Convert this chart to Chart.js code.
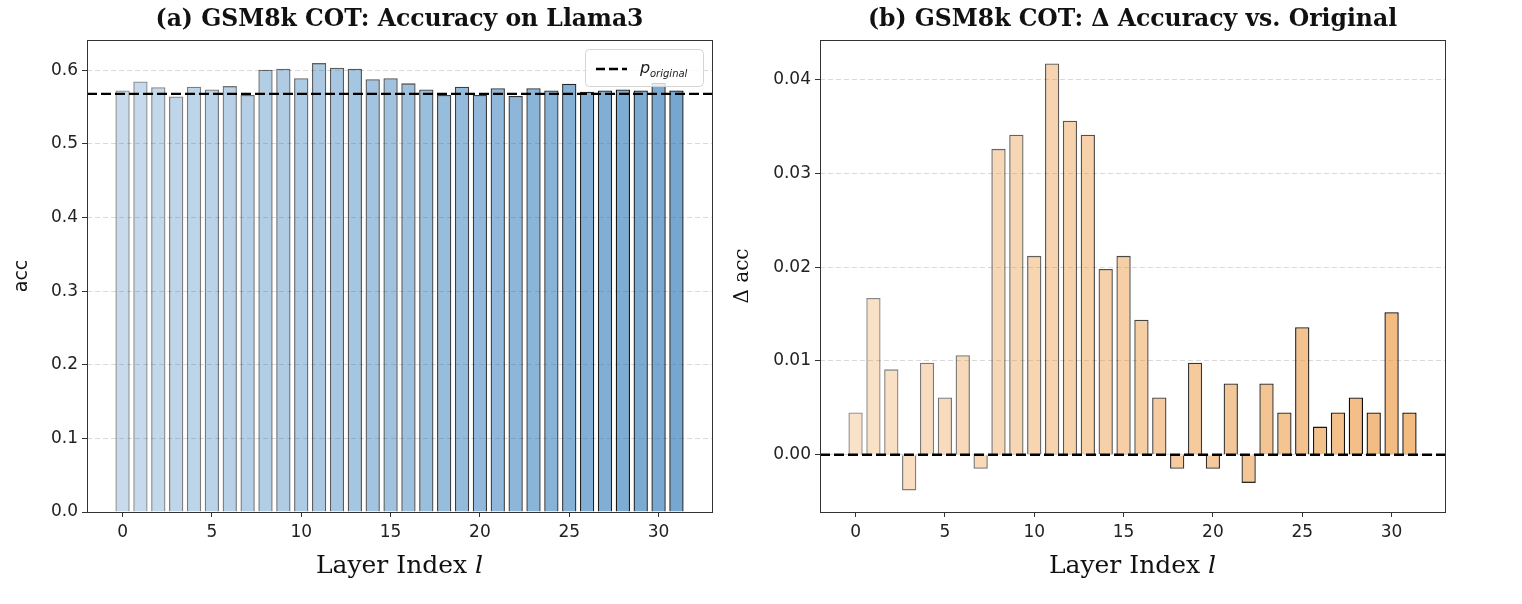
<!DOCTYPE html>
<html>
<head>
<meta charset="utf-8">
<script src="https://cdn.jsdelivr.net/npm/chart.js@4.4.0/dist/chart.umd.min.js"></script>
<style>
  body { margin: 0; background: #fff; width: 1522px; height: 604px; position: relative; overflow: hidden; }
  .box { position: absolute; top: 0; width: 760px; height: 604px; }
</style>
</head>
<body>
<div class="box" style="left:0"><canvas id="accChart" width="760" height="604"></canvas></div>
<div class="box" style="left:733px"><canvas id="deltaChart" width="760" height="604"></canvas></div>
<script>
// layer indices 0..31
const layers = [0, 1, 2, 3, 4, 5, 6, 7, 8, 9, 10, 11, 12, 13, 14, 15,
  16, 17, 18, 19, 20, 21, 22, 23, 24, 25, 26, 27, 28, 29, 30, 31];

// (a) accuracy per layer
const accValues = [0.5724, 0.5846, 0.5769, 0.5642, 0.5776, 0.5739, 0.5784, 0.5663,
  0.6005, 0.6020, 0.5891, 0.6096, 0.6034, 0.6020, 0.5877, 0.5891,
  0.5821, 0.5739, 0.5663, 0.5776, 0.5663, 0.5755, 0.5649, 0.5755,
  0.5724, 0.5815, 0.5708, 0.5724, 0.5739, 0.5724, 0.5829, 0.5724];

// (b) delta accuracy vs original
const deltaValues = [0.0045, 0.0167, 0.0091, -0.0038, 0.0098, 0.0061, 0.0106, -0.0015,
  0.0326, 0.0341, 0.0212, 0.0417, 0.0356, 0.0341, 0.0198, 0.0212,
  0.0144, 0.0061, -0.0015, 0.0098, -0.0015, 0.0076, -0.0030, 0.0076,
  0.0045, 0.0136, 0.0030, 0.0045, 0.0061, 0.0045, 0.0152, 0.0045];

const pOriginal = 0.5679;

const xTicks = [0, 5, 10, 15, 20, 25, 30];
const accTicks = [0, 0.1, 0.2, 0.3, 0.4, 0.5, 0.6];
const deltaTicks = [0, 0.01, 0.02, 0.03, 0.04];

// colour ramps (alpha grows with layer index, like the original plot)
const n = layers.length;
const ramp = (rgb, a0, a1) => layers.map((_, i) => `rgba(${rgb},${(a0 + (a1 - a0) * i / (n - 1)).toFixed(3)})`);

// draws frame, titles, axis labels and the legend
const decor = {
  id: 'decor',
  afterDraw(chart, args, o) {
    const { ctx, chartArea: a } = chart;
    ctx.save();
    ctx.strokeStyle = '#333';
    ctx.lineWidth = 1;
    ctx.strokeRect(Math.round(a.left) + 0.5, Math.round(a.top) + 0.5,
      Math.round(a.right - a.left), Math.round(a.bottom - a.top));

    const cx = (a.left + a.right) / 2;
    ctx.fillStyle = '#111';
    ctx.textBaseline = 'middle';
    ctx.textAlign = 'center';
    ctx.font = 'bold 23.5px "DejaVu Serif"';
    ctx.fillText(o.title, cx, 20);

    // x label: "Layer Index" + italic l
    ctx.font = '25px "DejaVu Serif"';
    const w1 = ctx.measureText('Layer Index ').width;
    ctx.font = 'italic 25px "DejaVu Serif"';
    const w2 = ctx.measureText('l').width;
    let x = cx - (w1 + w2) / 2;
    ctx.textAlign = 'left';
    ctx.font = '25px "DejaVu Serif"';
    ctx.fillText('Layer Index ', x, 566);
    ctx.font = 'italic 25px "DejaVu Serif"';
    ctx.fillText('l', x + w1, 566);

    // y label
    ctx.save();
    ctx.translate(o.yLabelX, (a.top + a.bottom) / 2);
    ctx.rotate(-Math.PI / 2);
    ctx.textAlign = 'center';
    ctx.font = o.yFont;
    ctx.fillText(o.yLabel, 0, 0);
    ctx.restore();

    if (o.legend) {
      const bx = a.right - 127, by = a.top + 9, bw = 118, bh = 37;
      ctx.beginPath();
      ctx.roundRect(bx + 0.5, by + 0.5, bw, bh, 4);
      ctx.fillStyle = 'rgba(255,255,255,0.8)';
      ctx.fill();
      ctx.strokeStyle = '#d4d4d4';
      ctx.stroke();
      ctx.beginPath();
      ctx.setLineDash([9, 4]);
      ctx.lineWidth = 2.4;
      ctx.strokeStyle = '#000';
      ctx.moveTo(bx + 11, by + 20);
      ctx.lineTo(bx + 42, by + 20);
      ctx.stroke();
      ctx.setLineDash([]);
      ctx.fillStyle = '#222';
      ctx.textAlign = 'left';
      ctx.textBaseline = 'alphabetic';
      ctx.font = 'italic 16px "DejaVu Sans"';
      ctx.fillText('p', bx + 55, by + 24);
      ctx.font = 'italic 10px "DejaVu Sans"';
      ctx.fillText('original', bx + 65, by + 28);
    }
    ctx.restore();
  }
};

function makeChart(id, values, cfg) {
  return new Chart(document.getElementById(id), {
    data: {
      datasets: [
        {
          type: 'line',
          data: [{ x: -1.99, y: cfg.refValue }, { x: 32.99, y: cfg.refValue }],
          borderColor: '#000',
          borderWidth: 2.4,
          borderDash: [10, 4],
          pointRadius: 0,
          order: 0
        },
        {
          type: 'bar',
          data: layers.map((l, i) => ({ x: l, y: values[i] })),
          backgroundColor: cfg.fill,
          borderColor: cfg.edge,
          borderWidth: 1.3,
          barPercentage: 0.8,
          categoryPercentage: 1,
          order: 1
        }
      ]
    },
    options: {
      responsive: false,
      animation: false,
      layout: { padding: { top: 40, right: 48, left: 0, bottom: 0 } },
      scales: {
        x: {
          type: 'linear',
          min: -1.99,
          max: 32.99,
          offset: false,
          afterBuildTicks: s => { s.ticks = xTicks.map(v => ({ value: v })); },
          afterFit: s => { s.height = 92; },
          grid: { offset: false, drawOnChartArea: false, tickLength: 5, tickColor: '#333' },
          border: { display: false },
          ticks: { font: { family: 'DejaVu Sans', size: 17 }, color: '#222', padding: 5, maxRotation: 0 }
        },
        y: {
          min: cfg.yMin,
          max: cfg.yMax,
          afterBuildTicks: s => { s.ticks = cfg.yTicks.map(v => ({ value: v })); },
          afterFit: s => { s.width = 87; },
          grid: { color: '#d9d9d9', lineWidth: 1, tickLength: 5, tickColor: '#333', tickBorderDash: [] },
          border: { display: false, dash: [5, 3] },
          ticks: {
            font: { family: 'DejaVu Sans', size: 17 }, color: '#222', padding: 4,
            callback: v => v.toFixed(cfg.digits)
          }
        }
      },
      plugins: {
        legend: { display: false },
        tooltip: { enabled: false },
        decor: cfg.decor
      }
    },
    plugins: [decor]
  });
}

makeChart('accChart', accValues, {
  refValue: pOriginal,
  fill: ramp('33,113,181', 0.25, 0.62),
  edge: ramp('0,0,0', 0.45, 0.95),
  yMin: 0, yMax: 0.641, yTicks: accTicks, digits: 1,
  decor: { title: '(a) GSM8k COT: Accuracy on Llama3', yLabel: 'acc', yFont: '19px "DejaVu Sans"', yLabelX: 22, legend: true }
});

makeChart('deltaChart', deltaValues, {
  refValue: 0,
  fill: ramp('235,150,60', 0.28, 0.65),
  edge: ramp('0,0,0', 0.45, 1),
  yMin: -0.0061, yMax: 0.0442, yTicks: deltaTicks, digits: 2,
  decor: { title: '(b) GSM8k COT: \u0394 Accuracy vs. Original', yLabel: '\u0394 acc', yFont: '20px "DejaVu Serif"', yLabelX: 10, legend: false }
});
</script>
</body>
</html>
